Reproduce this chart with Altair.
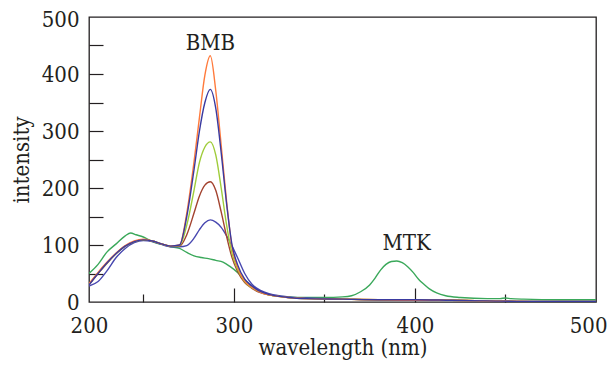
import altair as alt
import pandas as pd

# Shared wavelength grid (nm) for the five BMB spectra
WL = [220, 225, 230, 235, 240, 245, 250, 255, 260, 265, 270, 274, 278, 281, 284,
      287, 290, 293, 296, 299, 302, 306, 310, 315, 320, 330, 340, 360, 380, 400,
      420, 440, 460, 480, 500]
ORANGE = [32, 52, 70, 86, 99, 107, 110, 107, 102, 98, 100, 156, 246, 324, 398,
          432, 371, 275, 176, 96, 62, 37, 26, 17, 12, 8, 6, 5, 4, 3, 3, 2, 1, 0, 0]
BLUE = [30, 50, 69, 85, 98, 106, 109, 107, 102, 98, 100, 150, 232, 300, 350,
        373, 340, 262, 172, 100, 66, 40, 28, 18, 13, 8, 6, 5, 4, 4, 3, 2, 1, 1, 1]
LIME = [31, 51, 69, 85, 98, 106, 109, 107, 102, 98, 99, 135, 196, 245, 272,
        281, 258, 200, 135, 85, 58, 36, 25, 17, 12, 8, 6, 5, 4, 3, 3, 2, 1, 1, 1]
BROWN = [30, 50, 68, 85, 98, 106, 109, 107, 102, 98, 98, 118, 156, 186, 205,
         211, 196, 158, 115, 78, 54, 34, 24, 16, 12, 8, 6, 5, 4, 3, 3, 2, 1, 1, 1]
BLUE2 = [28, 36, 55, 78, 94, 104, 108, 106, 101, 97, 97, 99, 112, 127, 139,
         144, 140, 131, 116, 98, 78, 50, 31, 20, 14, 9, 7, 5, 4, 4, 3, 2, 1, 1, 1]

# MTK spectrum (green)
GREEN_WL = [220, 225, 230, 235, 240, 243, 246, 250, 255, 260, 265, 270, 274, 278,
            282, 286, 290, 294, 298, 302, 306, 310, 315, 320, 330, 340, 350, 360,
            365, 370, 375, 378, 381, 384, 387, 390, 393, 396, 399, 402, 405, 408,
            412, 417, 425, 440, 447, 450, 453, 460, 480, 500]
GREEN = [50, 66, 88, 102, 116, 121, 118, 114, 106, 101, 97, 94, 87, 81,
         78, 76, 73, 70, 62, 52, 39, 28, 18, 12, 9, 8, 8, 9,
         11, 18, 30, 42, 56, 66, 71, 72, 69, 62, 52, 40, 31, 23,
         16, 11, 8, 6, 6, 7, 6, 5, 4, 4]

SERIES = ["MTK", "BMB 1", "BMB 2", "BMB 3", "BMB 5", "BMB 4"]
COLORS = ["#3aa85a", "#4848b0", "#a3432f", "#9fcc3a", "#ff7a3c", "#3a3aa0"]
SERIES_DATA = [(GREEN_WL, GREEN), (WL, BLUE2), (WL, BROWN), (WL, LIME), (WL, ORANGE), (WL, BLUE)]

ANN_LABELS = ["BMB", "MTK"]
ANN_X = [287, 395.4]
ANN_Y = [455, 103]

X_LABEL_VALUES = [220, 300, 400, 500]
X_MAJOR_TICKS = [300, 400]
X_MINOR_TICKS = [250, 350, 450]
Y_LABEL_VALUES = [0, 100, 200, 300, 400, 500]
Y_TICK_VALUES = [50, 100, 150, 200, 250, 300, 350, 400, 450]

rows = []
for name, (xs, ys) in zip(SERIES, SERIES_DATA):
    for i, (x, y) in enumerate(zip(xs, ys)):
        rows.append({"series": name, "wavelength": x, "intensity": y, "i": i})
df = pd.DataFrame(rows)
ann = pd.DataFrame({"label": ANN_LABELS, "wavelength": ANN_X, "intensity": ANN_Y})

FONT = "DejaVu Serif Condensed"
FS = 22
INK = "#231f20"
xscale = alt.Scale(domain=[220, 500], nice=False, zero=False)
yscale = alt.Scale(domain=[0, 500], nice=False)

lines = alt.Chart(df).mark_line(strokeWidth=1.4, clip=True, interpolate="monotone").encode(
    x=alt.X("wavelength:Q", scale=xscale, title="wavelength (nm)",
            axis=alt.Axis(values=X_LABEL_VALUES,
                          labelExpr="datum.value == 220 ? '200' : datum.label",
                          labelAlign={"condition": {"test": "datum.value === 500", "value": "right"},
                                      "value": "center"},
                          labelOffset={"condition": {"test": "datum.value === 500", "value": 11},
                                       "value": 0},
                          ticks=False, tickSize=0, domain=False, grid=False,
                          labelFont=FONT, labelFontSize=FS, labelColor=INK,
                          labelPadding=13, labelFlush=False, labelOverlap=False,
                          titleFont=FONT, titleFontSize=FS, titleFontWeight="normal",
                          titleColor=INK, titlePadding=1)),
    y=alt.Y("intensity:Q", scale=yscale, title="intensity",
            axis=alt.Axis(values=Y_LABEL_VALUES, ticks=False, tickSize=0,
                          domain=False, grid=False,
                          labelOffset={"condition": {"test": "datum.value === 500", "value": 2},
                                       "value": 0},
                          labelFont=FONT, labelFontSize=FS, labelColor=INK,
                          labelPadding=10, labelFlush=False, labelOverlap=False,
                          titleFont=FONT, titleFontSize=FS, titleFontWeight="normal",
                          titleColor=INK, titlePadding=8)),
    color=alt.Color("series:N", scale=alt.Scale(domain=SERIES, range=COLORS), legend=None),
    order="i:Q",
)

# annotation text; its axes carry the long inward ticks
text = alt.Chart(ann).mark_text(font=FONT, fontSize=FS, color=INK,
                                baseline="middle", align="center").encode(
    x=alt.X("wavelength:Q", scale=xscale,
            axis=alt.Axis(orient="bottom", offset=-14, values=X_MAJOR_TICKS,
                          labels=False, domain=False, grid=False, title=None,
                          tickColor=INK, tickWidth=1.2, tickSize=14)),
    y=alt.Y("intensity:Q", scale=yscale,
            axis=alt.Axis(orient="left", offset=-14, values=Y_TICK_VALUES,
                          labels=False, domain=False, grid=False, title=None,
                          tickColor=INK, tickWidth=1.2, tickSize=14)),
    text="label:N",
)

# invisible copy whose x axis carries the short inward ticks
minor = alt.Chart(ann).mark_point(opacity=0).encode(
    x=alt.X("wavelength:Q", scale=xscale,
            axis=alt.Axis(orient="bottom", offset=-8, values=X_MINOR_TICKS,
                          labels=False, domain=False, grid=False, title=None,
                          tickColor=INK, tickWidth=1.2, tickSize=8)),
    y=alt.Y("intensity:Q", scale=yscale, axis=None),
)

chart = alt.layer(lines, text, minor).resolve_axis(
    x="independent", y="independent"
).properties(
    width=507, height=285,
    autosize=alt.AutoSizeParams(type="none"),
    padding={"left": 81, "top": 9, "right": 12, "bottom": 59},
    background="white",
).configure_view(stroke=INK, strokeWidth=1.3)

chart.save("out.html", embed_options={"renderer": "svg", "actions": False})
